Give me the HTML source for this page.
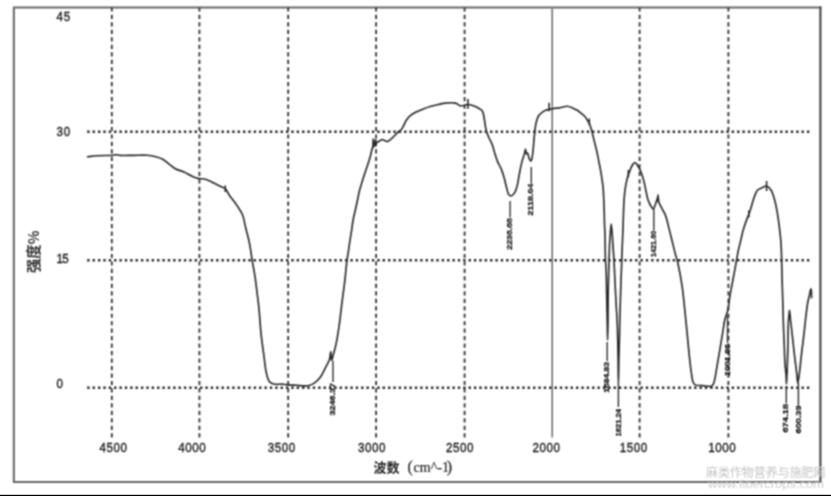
<!DOCTYPE html>
<html><head><meta charset="utf-8"><style>
html,body{margin:0;padding:0;background:#fff;}
body{width:831px;height:496px;overflow:hidden;position:relative;}
svg{position:absolute;left:0;top:0;}
.vd{stroke:#333;stroke-width:1.8;stroke-dasharray:4.2 3.27;}
.hd{stroke:#2a2a2a;stroke-width:2.5;stroke-dasharray:2.4 2.971;}
.tl{font-family:"Liberation Sans","DejaVu Sans",sans-serif;font-size:13.2px;fill:#161616;stroke:#161616;stroke-width:0.35px;}
.ml{font-family:"Liberation Sans","DejaVu Sans",sans-serif;font-size:8.6px;font-weight:bold;fill:#111;stroke:#111;stroke-width:0.3px;}
.mk{stroke:#333;stroke-width:1.4;}
.tk{stroke:#2a2a2a;stroke-width:1.6;}
.cv{fill:none;stroke:#2a2a2a;stroke-width:1.65;stroke-linejoin:round;stroke-linecap:round;}
</style></head><body>
<svg width="831" height="496" viewBox="0 0 831 496">
<defs><filter id="bl" x="0" y="0" width="831" height="496" filterUnits="userSpaceOnUse"><feConvolveMatrix order="3" kernelMatrix="1 2 1 2 4 2 1 2 1" divisor="16" edgeMode="none"/></filter></defs>
<rect x="0" y="0" width="831" height="496" fill="#fff"/>
<g filter="url(#bl)">
<path d="M13.85,6.6 V482.85 M12.9,7.57 H821.4 M12.9,481.9 H821.4" fill="none" stroke="#666" stroke-width="2"/>
<line x1="820.4" y1="6.6" x2="820.4" y2="482.85" stroke="#444" stroke-width="2.1"/>
<line x1="111.8" y1="7.4" x2="111.8" y2="440" class="vd"/>
<line x1="199.4" y1="7.4" x2="199.4" y2="440" class="vd"/>
<line x1="288.2" y1="7.4" x2="288.2" y2="440" class="vd"/>
<line x1="376.1" y1="7.4" x2="376.1" y2="440" class="vd"/>
<line x1="464.6" y1="7.4" x2="464.6" y2="440" class="vd"/>
<line x1="639.6" y1="7.4" x2="639.6" y2="440" class="vd"/>
<line x1="728.4" y1="7.4" x2="728.4" y2="440" class="vd"/>
<line x1="552.2" y1="8.5" x2="552.2" y2="437.5" stroke="#6a6a6a" stroke-width="1.5"/>
<line x1="87.2" y1="131.7" x2="809.4" y2="131.7" class="hd"/>
<line x1="87.2" y1="260.2" x2="809.4" y2="260.2" class="hd"/>
<line x1="87.2" y1="387.7" x2="809.4" y2="387.7" class="hd"/>
<path d="M87.60,156.80 C90.83,156.47 93.70,156.04 97.30,155.80 C101.80,155.49 108.99,155.60 112.50,155.30 C114.38,155.14 115.48,154.65 116.80,154.70 C117.95,154.74 118.54,155.25 120.00,155.40 C123.02,155.72 129.50,155.32 134.10,155.30 C138.52,155.28 143.21,154.97 147.10,155.30 C150.30,155.57 153.14,156.10 155.80,156.80 C158.15,157.41 160.21,158.00 162.30,159.10 C164.56,160.28 166.65,162.19 168.80,163.80 C170.98,165.43 172.86,167.45 175.30,168.80 C177.89,170.23 181.15,170.75 184.00,172.00 C186.91,173.28 189.89,175.26 192.60,176.40 C194.88,177.36 197.01,178.18 199.10,178.60 C200.96,178.98 202.59,178.54 204.50,179.00 C206.86,179.57 209.50,181.00 212.10,182.20 C214.92,183.51 218.40,185.41 220.80,186.60 C222.48,187.43 223.78,187.54 225.10,188.70 C226.84,190.23 227.96,193.20 229.70,195.70 C231.80,198.70 234.72,202.12 236.90,205.40 C239.00,208.56 241.14,211.42 242.60,215.00 C244.21,218.97 244.69,223.77 245.80,228.30 C246.96,233.03 248.37,237.75 249.40,242.80 C250.50,248.22 251.17,254.14 252.10,259.80 C253.03,265.44 254.12,270.87 255.00,276.70 C255.93,282.91 256.80,290.37 257.50,296.00 C258.05,300.38 258.43,303.01 258.90,307.70 C259.61,314.77 260.20,325.84 261.10,334.30 C261.93,342.04 263.08,349.77 264.00,356.50 C264.77,362.13 265.16,367.50 266.20,372.00 C267.03,375.59 267.70,379.50 269.30,381.50 C270.42,382.90 271.72,383.49 273.50,384.00 C276.01,384.72 280.51,383.99 283.30,384.20 C285.40,384.35 286.80,384.72 288.80,384.90 C291.17,385.11 293.78,385.16 296.60,385.30 C299.95,385.46 304.44,386.34 307.60,385.80 C310.16,385.36 312.23,384.45 314.30,383.10 C316.57,381.61 318.70,379.41 320.50,377.00 C322.49,374.33 323.95,370.60 325.50,367.60 C326.90,364.89 328.52,362.51 329.40,359.80 C330.27,357.14 330.44,351.49 330.80,351.50 C331.18,351.51 331.11,360.45 331.60,360.50 C331.95,360.54 332.47,357.90 333.00,356.00 C333.91,352.78 335.33,347.57 336.30,342.90 C337.40,337.65 338.22,332.05 339.10,326.00 C340.11,319.02 340.95,310.93 341.90,303.40 C342.85,295.87 343.93,288.16 344.80,280.80 C345.63,273.78 346.28,265.62 347.00,260.20 C347.47,256.64 347.95,254.42 348.40,251.40 C348.88,248.20 349.29,244.90 349.80,241.50 C350.35,237.88 351.02,234.04 351.60,230.30 C352.18,226.54 352.57,222.86 353.30,219.00 C354.08,214.88 355.31,210.40 356.20,206.30 C357.03,202.48 357.86,198.15 358.50,195.20 C358.92,193.24 359.10,192.22 359.60,190.30 C360.32,187.53 361.50,183.71 362.60,180.20 C363.81,176.34 365.49,171.43 366.60,168.10 C367.38,165.75 367.94,164.19 368.60,162.10 C369.31,159.84 370.13,157.23 370.70,155.00 C371.20,153.06 371.46,151.00 371.90,149.50 C372.21,148.43 372.66,147.94 372.90,146.80 C373.28,144.98 373.11,139.51 373.30,139.50 C373.48,139.50 373.59,145.96 374.00,146.00 C374.36,146.03 375.10,141.01 375.50,141.00 C375.73,140.99 375.66,142.52 376.10,142.70 C376.72,142.96 378.35,141.65 379.40,141.10 C380.38,140.58 381.33,139.56 382.20,139.50 C382.91,139.45 383.51,139.99 384.20,140.30 C384.97,140.65 385.79,141.44 386.60,141.50 C387.39,141.56 388.18,141.16 389.00,140.70 C390.07,140.10 391.23,138.89 392.30,137.90 C393.40,136.89 394.43,135.77 395.50,134.70 C396.57,133.63 397.77,132.20 398.70,131.50 C399.29,131.05 399.74,131.10 400.30,130.60 C401.24,129.75 402.36,127.90 403.30,126.30 C404.37,124.48 405.06,122.04 406.30,120.20 C407.51,118.41 408.93,116.78 410.60,115.40 C412.34,113.96 414.46,112.89 416.60,111.80 C418.88,110.64 421.46,109.62 423.90,108.70 C426.29,107.80 428.68,107.00 431.10,106.30 C433.51,105.60 435.97,105.04 438.40,104.50 C440.80,103.97 443.01,103.35 445.60,103.10 C448.58,102.81 453.19,102.60 455.30,103.10 C456.41,103.36 456.91,103.87 457.70,104.30 C458.51,104.74 459.18,105.48 460.10,105.70 C461.17,105.96 462.59,105.70 463.80,105.50 C465.02,105.30 466.04,104.55 467.40,104.50 C469.14,104.44 471.43,105.03 473.40,105.70 C475.47,106.40 477.87,107.64 479.50,108.70 C480.73,109.50 481.75,109.98 482.50,111.20 C483.54,112.89 483.66,115.78 484.20,118.50 C484.87,121.89 485.21,126.59 486.10,130.00 C486.85,132.86 487.86,135.27 488.90,137.70 C489.88,139.99 491.19,141.87 492.10,144.20 C493.08,146.71 493.62,149.49 494.50,152.30 C495.47,155.37 496.51,159.05 497.70,161.90 C498.71,164.32 499.99,165.97 501.00,168.40 C502.19,171.27 503.26,174.86 504.20,178.10 C505.12,181.29 505.74,184.73 506.60,187.70 C507.36,190.31 507.81,193.81 509.00,195.00 C509.70,195.69 510.68,196.00 511.50,195.80 C512.58,195.54 513.82,193.97 514.70,192.60 C515.79,190.90 516.39,188.67 517.10,186.10 C518.07,182.56 518.67,177.35 519.50,173.20 C520.28,169.30 521.00,165.32 521.90,161.90 C522.66,158.98 523.77,156.25 524.40,153.90 C524.89,152.08 525.15,149.00 525.50,149.00 C525.85,149.00 525.94,153.70 526.50,153.90 C526.80,154.01 527.27,152.90 527.60,153.00 C528.28,153.21 528.53,157.24 529.20,158.70 C529.67,159.72 530.34,161.14 530.80,161.10 C531.24,161.07 531.58,159.80 531.90,158.70 C532.51,156.58 532.85,152.23 533.20,149.00 C533.55,145.80 533.71,142.38 534.00,139.40 C534.25,136.80 534.48,134.68 534.80,132.10 C535.16,129.16 535.40,125.54 536.10,122.70 C536.70,120.24 537.36,117.79 538.50,116.00 C539.46,114.48 540.83,113.38 542.10,112.40 C543.25,111.52 544.48,110.81 545.70,110.30 C546.82,109.84 547.85,109.69 549.10,109.40 C550.62,109.05 552.51,108.65 554.20,108.40 C555.84,108.16 557.60,108.16 559.10,107.90 C560.40,107.67 561.41,107.26 562.70,107.00 C564.18,106.71 565.91,106.16 567.50,106.30 C569.14,106.44 570.80,107.24 572.40,107.90 C574.03,108.57 575.75,109.40 577.20,110.30 C578.53,111.12 579.60,112.06 580.80,113.00 C582.03,113.96 583.40,114.82 584.50,116.00 C585.65,117.24 586.65,118.98 587.50,120.30 C588.20,121.38 588.74,122.08 589.30,123.30 C590.07,124.96 590.77,127.33 591.40,129.50 C592.08,131.82 592.60,134.38 593.20,136.80 C593.80,139.21 594.40,141.59 595.00,144.00 C595.60,146.42 596.23,148.73 596.80,151.30 C597.43,154.16 598.00,157.38 598.60,160.40 C599.20,163.41 599.85,166.39 600.40,169.40 C600.95,172.42 601.45,175.46 601.90,178.50 C602.35,181.53 602.80,184.46 603.10,187.60 C603.42,190.95 603.52,194.34 603.70,198.00 C603.90,202.09 604.07,206.67 604.20,211.00 C604.33,215.33 604.36,219.82 604.50,224.00 C604.63,227.90 604.88,231.29 605.00,235.30 C605.13,239.88 605.10,245.57 605.20,250.00 C605.28,253.65 605.35,256.85 605.50,260.00 C605.63,262.82 605.86,265.06 606.00,268.00 C606.17,271.59 606.30,276.00 606.40,280.00 C606.50,284.00 606.52,287.71 606.60,292.00 C606.69,296.95 606.79,302.59 606.90,308.00 C607.02,313.58 607.18,319.51 607.30,325.00 C607.41,330.16 607.49,340.00 607.60,340.00 C607.72,340.00 607.92,327.91 608.00,322.00 C608.08,316.25 608.05,310.67 608.10,305.00 C608.15,299.33 608.21,293.29 608.30,288.00 C608.38,283.38 608.47,279.52 608.60,275.00 C608.74,270.06 608.93,264.72 609.10,259.50 C609.27,254.18 609.37,247.85 609.60,243.40 C609.77,240.24 609.96,238.22 610.20,235.30 C610.48,231.85 610.85,224.00 611.20,224.00 C611.55,224.00 612.03,231.84 612.30,235.30 C612.53,238.22 612.59,240.24 612.80,243.40 C613.09,247.85 613.58,254.18 613.90,259.50 C614.21,264.71 614.46,270.06 614.70,275.00 C614.92,279.52 615.07,283.38 615.30,288.00 C615.56,293.29 615.89,299.51 616.20,305.00 C616.49,310.16 616.86,314.64 617.10,320.00 C617.38,326.19 617.53,333.33 617.70,340.00 C617.87,346.67 617.99,353.02 618.10,360.00 C618.22,367.68 618.27,384.20 618.40,384.20 C618.53,384.20 618.72,367.68 618.90,360.00 C619.06,353.02 619.25,346.67 619.40,340.00 C619.55,333.33 619.63,326.67 619.80,320.00 C619.97,313.33 620.20,306.67 620.40,300.00 C620.60,293.33 620.78,286.19 621.00,280.00 C621.19,274.64 621.44,269.50 621.60,265.00 C621.73,261.33 621.78,258.51 621.90,255.00 C622.04,251.09 622.22,246.90 622.40,242.60 C622.59,237.93 622.83,232.73 623.00,228.00 C623.16,223.54 623.24,219.41 623.40,215.00 C623.57,210.42 623.71,205.37 624.00,201.00 C624.26,197.14 624.54,193.50 625.00,190.10 C625.40,187.08 625.98,184.02 626.50,181.60 C626.89,179.77 627.21,178.40 627.70,176.80 C628.20,175.16 628.90,173.52 629.50,171.90 C630.10,170.29 630.63,168.49 631.30,167.10 C631.85,165.95 632.43,164.90 633.10,164.10 C633.65,163.43 634.30,162.50 634.90,162.50 C635.50,162.50 636.14,163.44 636.70,164.10 C637.39,164.91 638.00,166.04 638.60,167.10 C639.24,168.23 639.83,169.39 640.40,170.70 C641.04,172.19 641.62,173.87 642.20,175.60 C642.83,177.49 643.44,179.41 644.00,181.60 C644.66,184.17 645.20,187.28 645.80,190.10 C646.40,192.91 646.83,195.96 647.60,198.50 C648.27,200.70 648.99,202.73 650.00,204.50 C650.92,206.12 652.37,208.89 653.30,208.80 C654.19,208.71 654.79,206.03 655.50,204.30 C656.40,202.10 657.55,196.55 658.10,196.60 C658.55,196.65 658.24,200.22 658.80,202.10 C659.45,204.28 660.98,206.58 662.10,208.80 C663.22,211.01 664.49,212.80 665.50,215.40 C666.81,218.79 667.72,223.43 668.80,227.60 C669.93,231.96 671.00,236.55 672.10,241.00 C673.20,245.42 674.38,250.38 675.40,254.20 C676.18,257.15 676.82,258.66 677.60,262.00 C678.96,267.82 680.85,277.76 682.10,286.20 C683.46,295.36 684.45,306.93 685.30,315.00 C685.91,320.84 686.30,325.06 686.80,330.10 C687.30,335.16 687.80,340.24 688.30,345.30 C688.80,350.34 689.27,355.65 689.80,360.40 C690.28,364.66 690.74,368.76 691.30,372.50 C691.79,375.76 692.01,379.38 692.90,381.60 C693.48,383.05 693.91,384.19 695.10,384.90 C696.75,385.88 700.07,385.39 702.70,385.60 C705.52,385.83 709.68,387.01 711.50,386.20 C712.63,385.69 713.03,384.68 713.60,383.50 C714.43,381.79 714.76,379.20 715.30,376.60 C715.99,373.27 716.55,368.93 717.20,365.10 C717.85,361.27 718.55,357.43 719.20,353.60 C719.85,349.77 720.47,345.92 721.10,342.10 C721.73,338.29 722.37,334.51 723.00,330.70 C723.63,326.88 724.12,322.26 724.90,319.20 C725.43,317.10 726.17,315.75 726.70,314.00 C727.23,312.25 727.67,310.84 728.10,308.70 C728.74,305.50 729.10,300.91 729.80,296.60 C730.62,291.61 731.91,285.24 732.80,280.50 C733.50,276.74 734.08,273.77 734.70,270.40 C735.32,267.03 735.88,263.67 736.50,260.30 C737.12,256.93 737.68,253.55 738.40,250.20 C739.12,246.85 740.00,243.54 740.80,240.20 C741.60,236.84 742.24,233.45 743.20,230.10 C744.17,226.69 745.55,222.78 746.60,219.90 C747.38,217.74 748.09,216.25 748.80,214.30 C749.56,212.20 750.20,210.19 751.00,207.70 C752.03,204.48 753.13,199.78 754.40,196.60 C755.41,194.07 756.22,191.50 757.70,190.00 C758.91,188.77 760.60,188.37 762.10,187.70 C763.57,187.04 765.19,185.73 766.60,186.00 C768.17,186.30 769.80,188.22 771.00,190.00 C772.51,192.23 773.33,195.53 774.30,198.80 C775.46,202.74 776.37,207.48 777.20,212.10 C778.09,217.05 778.77,222.42 779.40,227.60 C780.03,232.79 780.63,238.00 781.00,243.20 C781.36,248.37 781.43,253.12 781.60,258.70 C781.80,265.24 781.90,272.83 782.10,280.00 C782.30,287.32 782.58,294.81 782.80,302.20 C783.02,309.57 783.15,316.93 783.40,324.30 C783.65,331.69 784.02,339.51 784.30,346.50 C784.55,352.76 784.64,359.08 785.00,364.30 C785.29,368.41 785.85,371.82 786.10,375.30 C786.33,378.42 786.35,384.20 786.50,384.20 C786.70,384.20 786.98,374.33 787.20,368.70 C787.46,361.96 787.72,353.90 787.90,346.50 C788.08,339.10 787.99,330.89 788.30,324.30 C788.55,319.01 788.99,310.01 789.40,310.00 C789.74,309.99 790.08,316.31 790.50,320.00 C791.02,324.58 791.68,329.93 792.30,335.40 C793.01,341.63 793.74,348.94 794.50,355.40 C795.21,361.48 796.11,368.03 796.70,373.10 C797.15,376.90 797.35,383.09 797.80,383.10 C798.25,383.11 798.87,377.01 799.40,373.10 C800.14,367.60 800.85,359.65 801.60,353.20 C802.31,347.10 803.09,341.50 803.80,335.40 C804.55,328.95 805.27,321.46 806.00,315.50 C806.60,310.62 807.12,305.87 807.80,302.20 C808.29,299.57 808.93,297.63 809.40,295.50 C809.82,293.58 810.09,291.12 810.50,290.00 C810.69,289.47 810.94,288.86 811.10,288.90 C811.53,289.00 811.43,294.77 811.60,297.70" class="cv"/>
<line x1="225.3" y1="185.5" x2="225.3" y2="192" class="tk"/>
<line x1="373.4" y1="138.5" x2="373.4" y2="148" class="tk"/>
<line x1="375.6" y1="139" x2="375.6" y2="146.5" class="tk"/>
<line x1="467.9" y1="99" x2="467.9" y2="108.7" class="tk"/>
<line x1="549.1" y1="102.7" x2="549.1" y2="111.2" class="tk"/>
<line x1="589.3" y1="118.5" x2="589.3" y2="125.1" class="tk"/>
<line x1="628.3" y1="170" x2="628.3" y2="177.5" class="tk"/>
<line x1="658.1" y1="194.5" x2="658.1" y2="202" class="tk"/>
<line x1="748.8" y1="210.5" x2="748.8" y2="217.5" class="tk"/>
<line x1="766.6" y1="181" x2="766.6" y2="191" class="tk"/>
<line x1="333" y1="361" x2="333" y2="382" class="mk"/>
<text transform="translate(335.1,415.5) rotate(-90) scale(1,0.78)" class="ml" textLength="32.5" lengthAdjust="spacingAndGlyphs">3246.37</text>
<line x1="510.1" y1="201" x2="510.1" y2="217.5" class="mk"/>
<text transform="translate(512.2,249.7) rotate(-90) scale(1,0.78)" class="ml" textLength="31.7" lengthAdjust="spacingAndGlyphs">2236.66</text>
<line x1="531.3" y1="167" x2="531.3" y2="183.2" class="mk"/>
<text transform="translate(533.4,215.4) rotate(-90) scale(1,0.78)" class="ml" textLength="31.8" lengthAdjust="spacingAndGlyphs">2118.04</text>
<line x1="607.2" y1="342" x2="607.2" y2="361" class="mk"/>
<text transform="translate(609.3000000000001,392.8) rotate(-90) scale(1,0.78)" class="ml" textLength="30.8" lengthAdjust="spacingAndGlyphs">1684.83</text>
<line x1="618.4" y1="384" x2="618.4" y2="407" class="mk"/>
<text transform="translate(620.5,436.6) rotate(-90) scale(1,0.78)" class="ml" textLength="27.6" lengthAdjust="spacingAndGlyphs">1621.24</text>
<line x1="653.8" y1="208.8" x2="653.8" y2="230.5" class="mk"/>
<text transform="translate(655.9,257) rotate(-90) scale(1,0.78)" class="ml" textLength="26.2" lengthAdjust="spacingAndGlyphs">1421.60</text>
<line x1="727.5" y1="316" x2="727.5" y2="343" class="mk"/>
<text transform="translate(729.6,376) rotate(-90) scale(1,0.78)" class="ml" textLength="32.0" lengthAdjust="spacingAndGlyphs">1001.86</text>
<line x1="786.3" y1="386" x2="786.3" y2="403.5" class="mk"/>
<text transform="translate(788.4,432.6) rotate(-90) scale(1,0.78)" class="ml" textLength="28.6" lengthAdjust="spacingAndGlyphs">674.18</text>
<line x1="798.4" y1="383" x2="798.4" y2="405" class="mk"/>
<text transform="translate(800.5,433.4) rotate(-90) scale(1,0.78)" class="ml" textLength="27.9" lengthAdjust="spacingAndGlyphs">600.39</text>
<text transform="translate(99.4,452.4) scale(0.88,1)" class="tl" textLength="31.36" lengthAdjust="spacing">4500</text>
<text transform="translate(178.2,452.4) scale(0.88,1)" class="tl" textLength="31.36" lengthAdjust="spacing">4000</text>
<text transform="translate(267.7,452.4) scale(0.88,1)" class="tl" textLength="31.36" lengthAdjust="spacing">3500</text>
<text transform="translate(358,452.4) scale(0.88,1)" class="tl" textLength="31.36" lengthAdjust="spacing">3000</text>
<text transform="translate(445.9,452.4) scale(0.88,1)" class="tl" textLength="31.36" lengthAdjust="spacing">2500</text>
<text transform="translate(532.5,452.4) scale(0.88,1)" class="tl" textLength="31.36" lengthAdjust="spacing">2000</text>
<text transform="translate(619.7,452.4) scale(0.88,1)" class="tl" textLength="31.36" lengthAdjust="spacing">1500</text>
<text transform="translate(708.2,452.4) scale(0.88,1)" class="tl" textLength="31.36" lengthAdjust="spacing">1000</text>
<text transform="translate(56.4,21.0) scale(0.88,1)" class="tl" textLength="15.80" lengthAdjust="spacing">45</text>
<text transform="translate(56.4,135.5) scale(0.88,1)" class="tl" textLength="15.80" lengthAdjust="spacing">30</text>
<text transform="translate(56.4,262.8) scale(0.88,1)" class="tl" textLength="13.98" lengthAdjust="spacing">15</text>
<text transform="translate(56.4,388.4) scale(0.88,1)" class="tl" textLength="8.75" lengthAdjust="spacing">0</text>
<text transform="translate(38.8,273) rotate(-90)" style='font-family:"Noto Sans CJK SC",sans-serif;font-size:14.6px;font-weight:bold;fill:#333;' textLength="42.5" lengthAdjust="spacingAndGlyphs">强度%</text>
<text y="472.4" style='font-family:"Liberation Serif","Noto Serif CJK SC",serif;font-size:14px;fill:#262626;stroke:#262626;stroke-width:0.2px;'><tspan x="373.5" style='font-family:"Noto Sans CJK SC",sans-serif;font-size:13px;font-weight:bold;stroke-width:0;'>波数</tspan><tspan x="407.6" style="font-size:16px;">(</tspan><tspan x="413.6">cm^-1</tspan><tspan x="446.8" style="font-size:16px;">)</tspan></text>
<text x="706" y="476.5" style='font-family:"Noto Sans CJK SC",sans-serif;font-size:12px;fill:#c4c4c4;' textLength="119.5" lengthAdjust="spacingAndGlyphs">麻类作物营养与施肥网</text>
<text x="708" y="488" style='font-family:"Liberation Sans",sans-serif;font-size:11px;fill:#cdcdcd;' textLength="116" lengthAdjust="spacingAndGlyphs">www.fibercrops.com</text>
</g>
<rect x="0" y="494.8" width="831" height="1.2" fill="#000"/>
</svg>
</body></html>
